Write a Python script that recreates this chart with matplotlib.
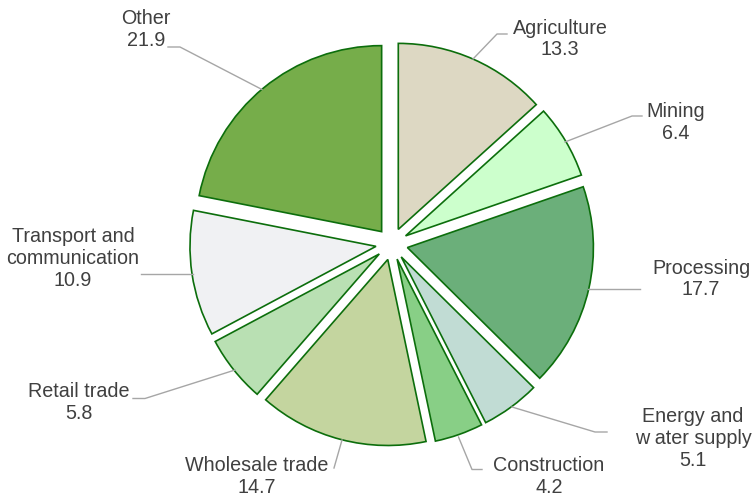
import matplotlib
matplotlib.use("Agg")
from matplotlib import pyplot as plt

# -- data --

sectors = ["Agriculture", "Mining", "Processing", "Energy and\nw ater supply",
           "Construction", "Wholesale trade", "Retail trade",
           "Transport and\ncommunication", "Other"]
shares = [13.3, 6.4, 17.7, 5.1, 4.2, 14.7, 5.8, 10.9, 21.9]
colors = ["#DDD8C3", "#CCFFCC", "#6BAF7A", "#C1DCD4", "#88CF86",
          "#C4D59F", "#B9E0B3", "#F0F1F3", "#76AD4A"]

# -- layout (pixel positions in the 755x496 image) --

W, H = 755, 496
CX, CY, R = 391.8, 244.0, 186.0

label_pos = [(560, 39), (675.5, 122.3), (701, 279), (693, 438.5),
             (549, 476.5), (257, 476.5), (79, 402.5), (73, 258.5), (146, 29.5)]
leaders = [
    [(473, 59), (497, 34), (507, 34)],
    [(565, 142), (632, 116), (642, 116)],
    [(588, 288.5), (640, 288.5)],
    [(512, 407), (595, 432), (607, 432)],
    [(458.5, 437), (472, 469.5), (482, 469.5)],
    [(342, 440), (334, 468)],
    [(235, 370), (145, 398.5), (133, 398.5)],
    [(193, 273.5), (141, 273.5)],
    [(262, 89.5), (180, 47), (168, 47)],
]


def px(x, y):
    # image pixel -> data units (pie radius = 1)
    return (x - CX) / R, (CY - y) / R


fig = plt.figure(figsize=(W / 100, H / 100), dpi=100)
ax = fig.add_axes([0, 0, 1, 1])
ax.axis("off")

ax.pie(shares, colors=colors, startangle=90, counterclock=False,
       explode=[0.086] * len(shares), radius=1,
       wedgeprops=dict(edgecolor="#0C6E0C", linewidth=1.2))
ax.set_xlim(-CX / R, (W - CX) / R)
ax.set_ylim(-(H - CY) / R, CY / R)
ax.set_aspect("auto")

for pts in leaders:
    xs, ys = zip(*[px(x, y) for x, y in pts])
    ax.plot(xs, ys, color="#A6A6A6", linewidth=1.0)

for name, val, (x, y) in zip(sectors, shares, label_pos):
    tx, ty = px(x, y)
    ax.text(tx, ty, f"{name}\n{val}", ha="center", va="center",
            multialignment="center", fontsize=14.2, linespacing=1.18,
            color="#404040", family="Liberation Sans")

fig.savefig("out.png", dpi=100)
